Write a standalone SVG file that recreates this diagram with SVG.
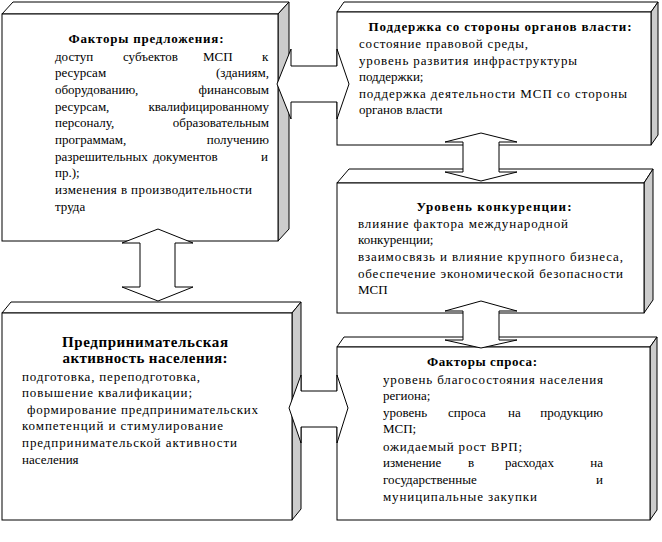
<svg xmlns="http://www.w3.org/2000/svg" width="662" height="542" viewBox="0 0 662 542">
<style>
.front{fill:#fff;stroke:#000;stroke-width:1}
.top{fill:#fff;stroke:#000;stroke-width:1}
.side{fill:#cccccc;stroke:#000;stroke-width:1}
.arrow{fill:#fff;stroke:#000;stroke-width:1}
.t{font-family:"Liberation Serif","DejaVu Serif",serif;font-size:13px;fill:#000}
.b{font-weight:bold}
.big{font-size:15px}
</style>
<rect width="662" height="542" fill="#fff"/>

<g id="box-supply">
<polygon class="top" points="2,14 13,2 289,2 278,14"/>
<polygon class="side" points="278,14 289,2 289,229 278,241"/>
<rect class="front" x="2" y="14" width="276" height="227"/>
<text class="t b" x="146" y="43" text-anchor="middle" textLength="155">Факторы предложения:</text>
<text class="t" y="61"><tspan x="55">доступ</tspan><tspan x="123">субъектов</tspan><tspan x="203">МСП</tspan><tspan x="262">к</tspan></text>
<text class="t" y="77"><tspan x="55">ресурсам</tspan></text>
<text class="t" y="77" x="269" text-anchor="end">(зданиям,</text>
<text class="t" y="94"><tspan x="55">оборудованию,</tspan></text>
<text class="t" y="94" x="269" text-anchor="end">финансовым</text>
<text class="t" y="111"><tspan x="55">ресурсам,</tspan></text>
<text class="t" y="111" x="269" text-anchor="end">квалифицированному</text>
<text class="t" y="127"><tspan x="55">персоналу,</tspan></text>
<text class="t" y="127" x="269" text-anchor="end">образовательным</text>
<text class="t" y="144"><tspan x="55">программам,</tspan></text>
<text class="t" y="144" x="269" text-anchor="end">получению</text>
<text class="t" y="161"><tspan x="55">разрешительных</tspan><tspan x="153">документов</tspan><tspan x="261">и</tspan></text>
<text class="t" x="55" y="177">пр.);</text>
<text class="t" x="55" y="194" textLength="197">изменения в производительности</text>
<text class="t" x="55" y="211">труда</text>
</g>

<g id="box-government">
<polygon class="top" points="337,12 344,2 658,2 651,12"/>
<polygon class="side" points="651,12 658,2 658,135 651,145"/>
<rect class="front" x="337" y="12" width="314" height="133"/>
<text class="t b" x="500" y="31" text-anchor="middle" textLength="263">Поддержка со стороны органов власти:</text>
<text class="t" x="359" y="48" textLength="169">состояние правовой среды,</text>
<text class="t" x="359" y="65" textLength="218">уровень развития инфраструктуры</text>
<text class="t" x="359" y="81">поддержки;</text>
<text class="t" x="359" y="98" textLength="268">поддержка деятельности МСП со стороны</text>
<text class="t" x="359" y="114">органов власти</text>
</g>

<g id="box-competition">
<polygon class="top" points="337,183 349,169 653,169 644,183"/>
<polygon class="side" points="644,183 653,169 653,300 644,313"/>
<rect class="front" x="337" y="183" width="307" height="130"/>
<text class="t b" x="494" y="211" text-anchor="middle" textLength="155">Уровень конкуренции:</text>
<text class="t" x="358" y="228" textLength="210">влияние фактора международной</text>
<text class="t" x="358" y="244">конкуренции;</text>
<text class="t" x="358" y="261" textLength="265">взаимосвязь и влияние крупного бизнеса,</text>
<text class="t" x="358" y="278" textLength="265">обеспечение экономической безопасности</text>
<text class="t" x="358" y="294">МСП</text>
</g>

<g id="box-demand">
<polygon class="top" points="337,347 344,337 657,337 650,347"/>
<polygon class="side" points="650,347 657,337 657,510 650,520"/>
<rect class="front" x="337" y="347" width="313" height="173"/>
<text class="t b" x="482" y="366" text-anchor="middle" textLength="110">Факторы спроса:</text>
<text class="t" x="383" y="384" textLength="220">уровень благосостояния населения</text>
<text class="t" x="383" y="400">региона;</text>
<text class="t" y="417"><tspan x="383">уровень</tspan><tspan x="448">спроса</tspan><tspan x="508">на</tspan></text>
<text class="t" x="603" y="417" text-anchor="end">продукцию</text>
<text class="t" x="383" y="433">МСП;</text>
<text class="t" x="383" y="451" textLength="139">ожидаемый рост ВРП;</text>
<text class="t" y="467"><tspan x="383">изменение</tspan><tspan x="468">в</tspan><tspan x="505">расходах</tspan></text>
<text class="t" x="603" y="467" text-anchor="end">на</text>
<text class="t" x="383" y="484">государственные</text>
<text class="t" x="603" y="484" text-anchor="end">и</text>
<text class="t" x="383" y="501" textLength="154">муниципальные закупки</text>
</g>

<g id="box-activity">
<polygon class="top" points="2,313 11,302 301,302 292,313"/>
<polygon class="side" points="292,313 301,302 301,509 292,520"/>
<rect class="front" x="2" y="313" width="290" height="207"/>
<text class="t b big" x="145" y="347" text-anchor="middle" textLength="166">Предпринимательская</text>
<text class="t b big" x="145" y="363" text-anchor="middle" textLength="165">активность населения:</text>
<text class="t" x="22" y="381" textLength="178">подготовка, переподготовка,</text>
<text class="t" x="22" y="397" textLength="170">повышение квалификации;</text>
<text class="t" x="27" y="414" textLength="231">формирование предпринимательских</text>
<text class="t" x="22" y="430" textLength="201">компетенций и стимулирование</text>
<text class="t" x="22" y="447" textLength="215">предпринимательской активности</text>
<text class="t" x="22" y="464">населения</text>
</g>

<g id="connectors">
<polygon class="arrow" points="277,84 291,49 291,66 337,66 337,49 349,84 337,119 337,102 291,102 291,119"/>
<polygon class="arrow" points="481,133 517,142 499,142 499,172 517,172 481,181 445,172 463,172 463,142 445,142"/>
<polygon class="arrow" points="481,301 517,311 499,311 499,340 517,340 481,348 445,340 463,340 463,311 445,311"/>
<polygon class="arrow" points="158,229 193,243 175,243 175,287 193,287 158,301 122,287 140,287 140,243 122,243"/>
<polygon class="arrow" points="289,408 301,375 301,391 337,391 337,375 348,408 337,443 337,427 301,427 301,443"/>
</g>
</svg>
